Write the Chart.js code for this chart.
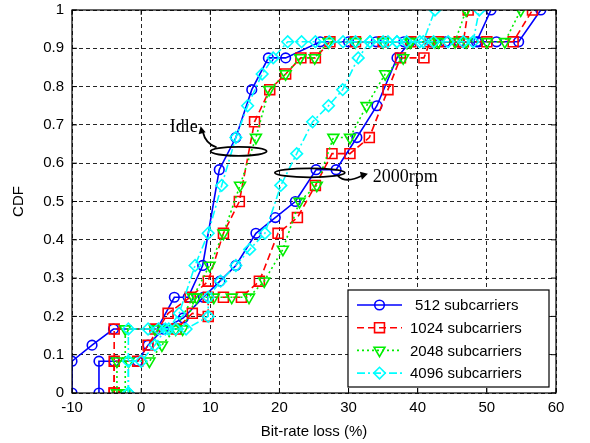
<!DOCTYPE html>
<html>
<head>
<meta charset="utf-8">
<script src="https://cdn.jsdelivr.net/npm/chart.js@4.4.0/dist/chart.umd.min.js"></script>
<style>
  html, body { margin: 0; padding: 0; background: #fff; }
</style>
</head>
<body>
<canvas id="cdfChart" width="590" height="443"></canvas>
<script>
// legend names and axis ticks
const seriesNames = ['512 subcarriers', '1024 subcarriers', '2048 subcarriers', '4096 subcarriers'];
const xTicks = [-10, 0, 10, 20, 30, 40, 50, 60];
const yTicks = [0, 0.1, 0.2, 0.3, 0.4, 0.5, 0.6, 0.7, 0.8, 0.9, 1];
const yTickLabels = ['0', '0.1', '0.2', '0.3', '0.4', '0.5', '0.6', '0.7', '0.8', '0.9', '1'];

// 512 subcarriers
const idle512X = [-10, -10, -7.1, -4, 2.3, 4.8, 6.8, 8.9, 11.3, 13.7, 16.0, 18.4, 20.9, 25.9, 30, 34, 38, 42, 46, 48.5, 50.6];
const idle512Y = [0, 0.083, 0.125, 0.167, 0.167, 0.25, 0.25, 0.333, 0.583, 0.667, 0.792, 0.875, 0.875, 0.917, 0.917, 0.917, 0.917, 0.917, 0.917, 0.917, 1];
const rpm512X = [-6.1, -6.1, -3.9, -0.5, 1.0, 3.2, 6.1, 9.0, 11.4, 13.7, 16.6, 19.4, 22.3, 25.3, 28.2, 31.2, 34.1, 37.0, 38.9, 44, 48.8, 51.4, 54.6, 57.8];
const rpm512Y = [0, 0.083, 0.083, 0.083, 0.125, 0.167, 0.196, 0.25, 0.292, 0.333, 0.417, 0.458, 0.5, 0.583, 0.583, 0.667, 0.75, 0.875, 0.917, 0.917, 0.917, 0.917, 0.917, 1];

// 1024 subcarriers
const idle1024X = [-3.9, -3.9, -0.5, 1.0, 3.9, 7.1, 9.7, 11.9, 14.2, 16.4, 18.6, 20.9, 23.1, 25.2, 27.3, 31, 35, 39, 43, 46.6, 47.3];
const idle1024Y = [0, 0.083, 0.083, 0.125, 0.208, 0.25, 0.292, 0.417, 0.5, 0.708, 0.792, 0.833, 0.875, 0.875, 0.917, 0.917, 0.917, 0.917, 0.917, 0.917, 1];
const rpm1024X = [-3.9, -3.9, 2.0, 5.1, 7.4, 9.7, 9.7, 11.9, 14.5, 17.1, 19.8, 22.6, 25.2, 27.6, 30.2, 33.0, 35.7, 37.5, 40.9, 41.8, 46, 50, 53.8, 56.6];
const rpm1024Y = [0, 0.167, 0.167, 0.167, 0.208, 0.2, 0.25, 0.25, 0.25, 0.292, 0.417, 0.458, 0.542, 0.625, 0.625, 0.667, 0.792, 0.875, 0.875, 0.917, 0.917, 0.917, 0.917, 1];

// 2048 subcarriers
const idle2048X = [-3.5, -3.5, -1.8, 1.2, 3.0, 5.0, 7.5, 9.9, 11.9, 14.3, 16.6, 18.5, 20.9, 23.0, 25.1, 27.1, 31, 35, 39, 42.5, 45.4, 47.0];
const idle2048Y = [0, 0.083, 0.083, 0.083, 0.125, 0.167, 0.25, 0.333, 0.417, 0.542, 0.667, 0.792, 0.833, 0.875, 0.875, 0.917, 0.917, 0.917, 0.917, 0.917, 0.917, 1];
const rpm2048X = [-2.3, -2.3, 2.0, 4.0, 6.0, 8.0, 10.5, 13.1, 15.6, 17.8, 20.5, 22.9, 25.4, 27.8, 30.2, 32.6, 35.3, 37.9, 38.9, 43, 47, 50, 52.6, 54.9];
const rpm2048Y = [0, 0.167, 0.167, 0.167, 0.167, 0.25, 0.25, 0.25, 0.25, 0.292, 0.375, 0.5, 0.542, 0.667, 0.667, 0.75, 0.833, 0.875, 0.917, 0.917, 0.917, 0.917, 0.917, 1];

// 4096 subcarriers
const idle4096X = [-1.85, -1.85, 1.0, 2.5, 4.0, 5.5, 7.8, 9.7, 11.65, 13.7, 15.4, 17.5, 19.1, 21.2, 23.2, 25.2, 27.2, 29.2, 31.0, 33.1, 35.7, 37.0, 38.4, 40.8, 42.5];
const idle4096Y = [0, 0.167, 0.167, 0.167, 0.167, 0.208, 0.333, 0.417, 0.542, 0.667, 0.75, 0.833, 0.875, 0.917, 0.917, 0.917, 0.917, 0.917, 0.917, 0.917, 0.917, 0.917, 0.917, 0.917, 1];
const rpm4096X = [-1.85, -1.85, 0.0, 2.0, 3.5, 5.0, 6.5, 9.7, 9.7, 11.5, 13.7, 15.7, 17.9, 20.2, 22.5, 24.8, 27.1, 29.15, 31.4, 33.1, 35, 37, 40.3, 42.3, 44.4, 46.6, 48.0, 48.9];
const rpm4096Y = [0, 0.083, 0.083, 0.125, 0.167, 0.167, 0.167, 0.2, 0.25, 0.292, 0.333, 0.375, 0.417, 0.542, 0.625, 0.708, 0.75, 0.792, 0.875, 0.917, 0.917, 0.917, 0.917, 0.917, 0.917, 0.917, 0.917, 1];

const toPoints = (xs, ys) => xs.map((x, i) => ({ x: x, y: ys[i] }));

// one style per subcarrier count, MATLAB look
const styles = [
  { color: '#0000ff', dash: [], point: 'circle', radius: 4.8, rotation: 0 },
  { color: '#ff0000', dash: [7, 4], point: 'rect', radius: 7, rotation: 0 },
  { color: '#00ee00', dash: [2, 3], point: 'triangle', radius: 6.3, rotation: 180 },
  { color: '#00ffff', dash: [8, 3, 2, 3], point: 'rectRot', radius: 5.8, rotation: 0 }
];

const curves = [
  [idle512X, idle512Y, rpm512X, rpm512Y],
  [idle1024X, idle1024Y, rpm1024X, rpm1024Y],
  [idle2048X, idle2048Y, rpm2048X, rpm2048Y],
  [idle4096X, idle4096Y, rpm4096X, rpm4096Y]
];

const datasets = [];
curves.forEach((c, i) => {
  const s = styles[i];
  [[c[0], c[1]], [c[2], c[3]]].forEach(pair => {
    datasets.push({
      label: seriesNames[i],
      data: toPoints(pair[0], pair[1]),
      showLine: true,
      borderColor: s.color,
      borderWidth: 1.6,
      borderDash: s.dash,
      pointStyle: s.point,
      pointRadius: s.radius,
      pointRotation: s.rotation,
      pointBorderColor: s.color,
      pointBackgroundColor: 'rgba(0,0,0,0)',
      pointBorderWidth: 1.6,
      order: 4 - i
    });
  });
});

// frame, inner tick marks, annotations and legend
const decorations = {
  id: 'decorations',
  afterDraw(chart) {
    const ctx = chart.ctx;
    const a = chart.chartArea;
    const xs = chart.scales.x, ys = chart.scales.y;

    ctx.save();
    ctx.strokeStyle = '#000';
    ctx.lineWidth = 1.2;
    ctx.setLineDash([]);
    ctx.strokeRect(a.left, a.top, a.right - a.left, a.bottom - a.top);
    ctx.lineWidth = 1;
    xTicks.forEach(v => {
      const px = xs.getPixelForValue(v);
      ctx.beginPath();
      ctx.moveTo(px, a.bottom); ctx.lineTo(px, a.bottom - 5);
      ctx.moveTo(px, a.top); ctx.lineTo(px, a.top + 5);
      ctx.stroke();
    });
    yTicks.forEach(v => {
      const py = ys.getPixelForValue(v);
      ctx.beginPath();
      ctx.moveTo(a.left, py); ctx.lineTo(a.left + 5, py);
      ctx.moveTo(a.right, py); ctx.lineTo(a.right - 5, py);
      ctx.stroke();
    });

    // "Idle" annotation
    const ix = xs.getPixelForValue(14.1), iy = ys.getPixelForValue(0.631);
    ctx.lineWidth = 1.8;
    ctx.beginPath();
    ctx.ellipse(ix, iy, 28, 4.5, 0, 0, Math.PI * 2);
    ctx.stroke();
    ctx.beginPath();
    ctx.moveTo(ix - 22, iy - 4);
    ctx.quadraticCurveTo(ix - 33, iy - 7, ix - 36, iy - 20);
    ctx.stroke();
    ctx.fillStyle = '#000';
    ctx.beginPath();
    ctx.moveTo(ix - 38, iy - 25);
    ctx.lineTo(ix - 40, iy - 17);
    ctx.lineTo(ix - 33, iy - 19);
    ctx.closePath();
    ctx.fill();

    // "2000rpm" annotation
    const rx = xs.getPixelForValue(24.4), ry = ys.getPixelForValue(0.575);
    ctx.beginPath();
    ctx.ellipse(rx, ry, 35, 4.5, 0, 0, Math.PI * 2);
    ctx.stroke();
    ctx.beginPath();
    ctx.moveTo(rx + 28, ry + 3);
    ctx.quadraticCurveTo(rx + 36, ry + 11, rx + 52, ry + 3);
    ctx.stroke();
    ctx.beginPath();
    ctx.moveTo(rx + 58, ry + 1);
    ctx.lineTo(rx + 50, ry - 1);
    ctx.lineTo(rx + 52, ry + 7);
    ctx.closePath();
    ctx.fill();

    ctx.font = '18px "Liberation Serif", "DejaVu Serif", serif';
    ctx.textBaseline = 'alphabetic';
    ctx.textAlign = 'right';
    ctx.fillText('Idle', ix - 41, iy - 19);
    ctx.textAlign = 'left';
    ctx.fillText('2000rpm', rx + 63, ry + 9);

    // legend box in the lower right corner
    const bw = 201, bh = 97;
    const bx = a.right - 7 - bw, by = a.bottom - 6 - bh;
    ctx.fillStyle = '#fff';
    ctx.fillRect(bx, by, bw, bh);
    ctx.strokeStyle = '#000';
    ctx.lineWidth = 1.2;
    ctx.strokeRect(bx, by, bw, bh);
    ctx.font = '15px "Liberation Sans", Arial, sans-serif';
    ctx.textBaseline = 'middle';
    seriesNames.forEach((name, i) => {
      const s = styles[i];
      const ly = by + 15 + i * 22.7;
      ctx.strokeStyle = s.color;
      ctx.lineWidth = 1.6;
      ctx.setLineDash(s.dash);
      ctx.beginPath();
      ctx.moveTo(bx + 9, ly); ctx.lineTo(bx + 54, ly);
      ctx.stroke();
      ctx.setLineDash([]);
      ctx.fillStyle = 'rgba(0,0,0,0)';
      Chart.helpers.drawPoint(ctx, {
        pointStyle: s.point, radius: s.radius, rotation: s.rotation, borderWidth: 1.6
      }, bx + 31.5, ly);
      ctx.fillStyle = '#000';
      ctx.textAlign = 'left';
      ctx.fillText(name, bx + (i === 0 ? 67 : 62), ly + 1);
    });
    ctx.restore();
  }
};

const tickFont = { family: '"Liberation Sans", Arial, sans-serif', size: 15 };

new Chart(document.getElementById('cdfChart').getContext('2d'), {
  type: 'scatter',
  data: { datasets: datasets },
  options: {
    responsive: false,
    animation: false,
    devicePixelRatio: 1,
    layout: { padding: { top: 10, right: 34, left: 0, bottom: 0 } },
    plugins: {
      legend: { display: false },
      tooltip: { enabled: false }
    },
    scales: {
      x: {
        type: 'linear',
        min: -10,
        max: 60,
        afterBuildTicks: s => { s.ticks = xTicks.map(v => ({ value: v })); },
        afterFit: s => { s.height = 50; s.paddingLeft = 0; s.paddingRight = 0; },
        grid: { color: 'rgba(0,0,0,0.85)', lineWidth: 1, drawTicks: false },
        border: { display: false, dash: [4, 3] },
        ticks: { color: '#000', font: tickFont, padding: 6, maxRotation: 0 },
        title: { display: true, text: 'Bit-rate loss (%)', color: '#000', font: tickFont, padding: { top: 2, bottom: 2 } }
      },
      y: {
        type: 'linear',
        min: 0,
        max: 1,
        afterBuildTicks: s => { s.ticks = yTicks.map(v => ({ value: v })); },
        afterFit: s => { s.width = 72; s.paddingTop = 0; s.paddingBottom = 0; },
        grid: { color: 'rgba(0,0,0,0.85)', lineWidth: 1, drawTicks: false },
        border: { display: false, dash: [4, 3] },
        ticks: {
          color: '#000', font: tickFont, padding: 8,
          callback: (v, i) => yTickLabels[i]
        },
        title: { display: true, text: 'CDF', color: '#000', font: tickFont, padding: { top: 10, bottom: 0 } }
      }
    }
  },
  plugins: [decorations]
});
</script>
</body>
</html>
